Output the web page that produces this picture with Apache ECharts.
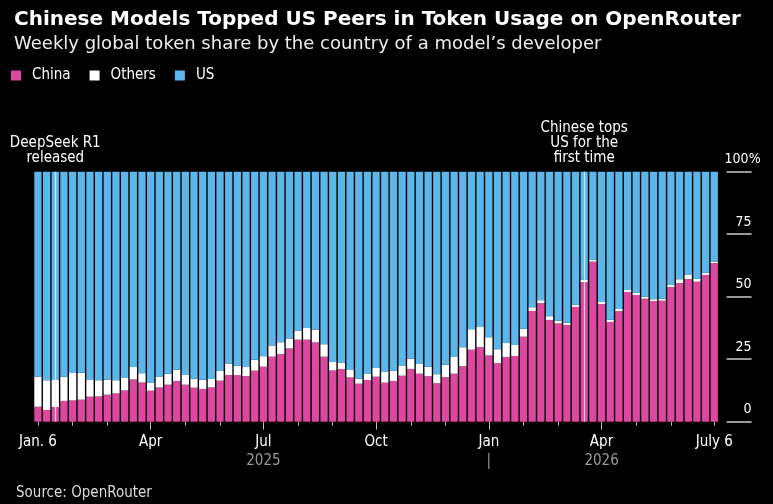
<!DOCTYPE html>
<html>
<head>
<meta charset="utf-8">
<script src="https://cdn.jsdelivr.net/npm/echarts@6/dist/echarts.min.js"></script>
<style>
html,body{margin:0;padding:0;background:#000;}
#chart{width:773px;height:504px;}
</style>
</head>
<body>
<div id="chart"></div>
<script>
const categories = [
 '2025-01-06','2025-01-13','2025-01-20','2025-01-27','2025-02-03','2025-02-10','2025-02-17','2025-02-24',
 '2025-03-03','2025-03-10','2025-03-17','2025-03-24','2025-03-31','2025-04-07','2025-04-14','2025-04-21',
 '2025-04-28','2025-05-05','2025-05-12','2025-05-19','2025-05-26','2025-06-02','2025-06-09','2025-06-16',
 '2025-06-23','2025-06-30','2025-07-07','2025-07-14','2025-07-21','2025-07-28','2025-08-04','2025-08-11',
 '2025-08-18','2025-08-25','2025-09-01','2025-09-08','2025-09-15','2025-09-22','2025-09-29','2025-10-06',
 '2025-10-13','2025-10-20','2025-10-27','2025-11-03','2025-11-10','2025-11-17','2025-11-24','2025-12-01',
 '2025-12-08','2025-12-15','2025-12-22','2025-12-29','2026-01-05','2026-01-12','2026-01-19','2026-01-26',
 '2026-02-02','2026-02-09','2026-02-16','2026-02-23','2026-03-02','2026-03-09','2026-03-16','2026-03-23',
 '2026-03-30','2026-04-06','2026-04-13','2026-04-20','2026-04-27','2026-05-04','2026-05-11','2026-05-18',
 '2026-05-25','2026-06-01','2026-06-08','2026-06-15','2026-06-22','2026-06-29','2026-07-06'
];
const china = [
 6.0,4.7,5.9,8.3,8.5,8.8,10.0,10.1,10.8,11.3,12.5,16.9,15.7,12.4,13.7,14.8,16.3,14.8,13.6,13.1,
 13.7,16.4,18.7,18.6,18.2,20.4,22.0,26.0,27.1,29.3,32.8,32.8,31.7,26.0,20.5,21.0,17.7,15.2,16.7,18.0,
 15.6,16.3,18.4,21.1,19.2,18.2,15.4,17.8,19.2,22.2,28.8,29.8,26.5,23.4,25.9,26.3,34.0,44.3,47.4,40.7,
 39.3,38.7,45.9,55.8,64.0,47.0,39.9,44.2,51.9,50.7,49.2,48.2,48.4,53.9,55.4,57.0,56.0,58.7,63.4
];
const others = [
 12.0,11.9,10.8,9.7,11.0,10.8,6.7,6.5,6.0,5.3,5.0,5.0,3.7,3.1,4.4,4.4,4.5,3.9,3.6,3.7,
 3.4,3.9,4.5,3.8,3.7,4.4,4.2,4.5,4.7,4.0,3.7,4.7,5.1,5.0,3.4,2.7,3.0,2.0,2.4,3.5,
 4.3,4.1,3.9,4.1,3.9,3.8,3.6,5.0,6.7,7.6,8.2,8.1,7.3,5.6,5.6,4.4,3.2,1.5,1.2,1.5,
 1.1,0.9,0.9,0.9,0.7,0.9,0.9,0.9,0.8,0.8,0.8,0.8,0.8,0.8,1.6,1.7,1.1,0.9,0.7
];
const us = [
 82.0,83.4,83.3,82.0,80.5,80.4,83.3,83.4,83.2,83.4,82.5,78.1,80.6,84.5,81.9,80.8,79.2,81.3,82.8,83.2,
 82.9,79.7,76.8,77.6,78.1,75.2,73.8,69.5,68.2,66.7,63.5,62.5,63.2,69.0,76.1,76.3,79.3,82.8,80.9,78.5,
 80.1,79.6,77.7,74.8,76.9,78.0,81.0,77.2,74.1,70.2,63.0,62.1,66.2,71.0,68.5,69.3,62.8,54.2,51.4,57.8,
 59.6,60.4,53.2,43.3,35.3,52.1,59.2,54.9,47.3,48.5,50.0,51.0,50.8,45.3,43.0,41.3,42.9,40.4,35.9
];
const labelIndex = [0, 13, 26, 39, 52, 65, 78];
const labelMonth = ['Jan. 6', 'Apr', 'Jul', 'Oct', 'Jan', 'Apr', 'July 6'];
const labelYear  = ['', '', '2025', '', '|', '2026', ''];
const majorTickIndex = [13, 26, 39, 52, 65];
const events = [
  { date: '2025-01-20', text: 'DeepSeek R1\nreleased' },
  { date: '2026-03-23', text: 'Chinese tops\nUS for the\nfirst time' }
];

const FONT = "'DejaVu Sans Condensed', 'DejaVu Sans', sans-serif";
const PINK = '#dc479f', BLUE = '#5cb6ea', WHITE = '#ffffff';

function isMonthStart(i) {
  if (i === 0) return true;
  return categories[i].slice(5, 7) !== categories[i - 1].slice(5, 7);
}

const chart = echarts.init(document.getElementById('chart'), null, { renderer: 'canvas' });
chart.setOption({
  backgroundColor: '#000',
  animation: false,
  textStyle: { fontFamily: FONT },
  title: [
    { text: 'Chinese Models Topped US Peers in Token Usage on OpenRouter', left: 9, top: 5,
      textStyle: { color: '#fff', fontSize: 20, fontWeight: 'bold', fontFamily: "'DejaVu Sans', sans-serif" } },
    { text: 'Weekly global token share by the country of a model\u2019s developer', left: 9, top: 30,
      textStyle: { color: '#eee', fontSize: 18, fontWeight: 'normal', fontFamily: "'DejaVu Sans', sans-serif" } },
    { text: 'Source: OpenRouter', left: 11, top: 481,
      textStyle: { color: '#ddd', fontSize: 15, fontWeight: 'normal', fontFamily: FONT } }
  ],
  legend: {
    left: 11, top: 68, padding: 0, icon: 'rect', itemWidth: 10, itemHeight: 10, itemGap: 19,
    data: ['China', 'Others', 'US'],
    textStyle: { color: '#fff', fontSize: 15, fontFamily: FONT, padding: [0, 0, 0, 6] }
  },
  grid: { left: 33.6, right: 54.4, top: 171.7, bottom: 82.3, containLabel: false },
  xAxis: [
    {
      type: 'category', data: categories, position: 'bottom',
      axisLine: { show: false },
      axisTick: { show: true, alignWithLabel: true, length: 4, lineStyle: { color: '#bbb', width: 1 },
        interval: function (i) { return isMonthStart(i); } },
      axisLabel: {
        interval: function (i) { return labelIndex.indexOf(i) >= 0; },
        margin: 11,
        formatter: function (v, i) {
          const k = labelIndex.indexOf(i);
          if (k < 0) return '';
          return labelYear[k] ? '{m|' + labelMonth[k] + '}\n{y|' + labelYear[k] + '}' : '{m|' + labelMonth[k] + '}';
        },
        rich: {
          m: { color: '#fff', fontSize: 15, fontFamily: FONT, lineHeight: 19 },
          y: { color: '#9a9a9a', fontSize: 15, fontFamily: FONT, lineHeight: 19 }
        }
      }
    },
    {
      type: 'category', data: categories, position: 'bottom', offset: 0,
      axisLine: { show: false },
      axisLabel: { show: false },
      axisTick: { show: true, alignWithLabel: true, length: 8, lineStyle: { color: '#bbb', width: 1 },
        interval: function (i) { return majorTickIndex.indexOf(i) >= 0; } }
    }
  ],
  yAxis: {
    type: 'value', min: 0, max: 100, interval: 25, position: 'right', offset: 8,
    axisLine: { show: false },
    splitLine: { show: false },
    axisTick: { show: true, length: 25, lineStyle: { color: '#ccc', width: 1.5 } },
    axisLabel: {
      align: 'right', margin: 34, verticalAlign: 'bottom', padding: [0, 0, 5, 0],
      formatter: function (v) { return v === 100 ? '{n|100}{p|%}' : '{n|' + v + '}{h| }'; },
      rich: {
        n: { color: '#fff', fontSize: 14, fontFamily: FONT },
        p: { color: '#fff', fontSize: 14, fontFamily: FONT },
        h: { color: 'rgba(0,0,0,0)', fontSize: 14, fontFamily: FONT, width: 9 }
      }
    }
  },
  series: [
    { name: 'China', type: 'bar', stack: 'share', data: china, barWidth: '84%',
      itemStyle: { color: PINK } },
    { name: 'Others', type: 'bar', stack: 'share', data: others, barWidth: '84%',
      itemStyle: { color: WHITE } },
    { name: 'US', type: 'bar', stack: 'share', data: us, barWidth: '84%',
      itemStyle: { color: BLUE },
      markLine: {
        silent: true, symbol: 'none', animation: false,
        lineStyle: { color: 'rgba(235,245,255,0.75)', width: 1.3, type: 'solid' },
        label: { show: true, position: 'end', distance: 6, color: '#fff', fontSize: 15,
          fontFamily: FONT, lineHeight: 15, align: 'center',
          formatter: function (p) { return p.data.text; } },
        data: events.map(function (e) { return { xAxis: e.date, text: e.text }; })
      }
    }
  ]
});
</script>
</body>
</html>
